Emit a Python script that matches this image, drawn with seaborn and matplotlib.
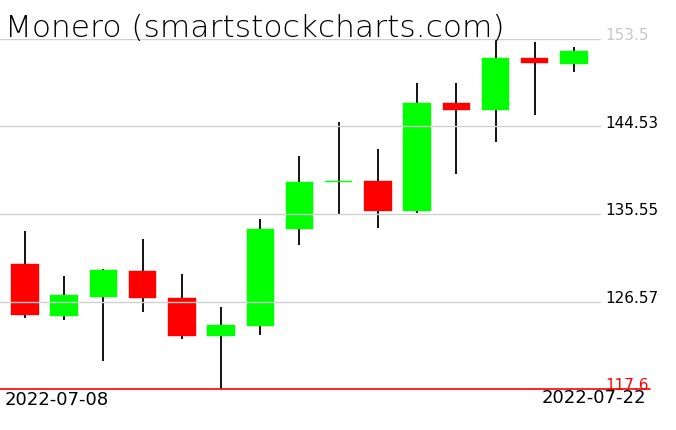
import matplotlib
matplotlib.use("Agg")
import matplotlib.pyplot as plt
import seaborn as sns
import pandas as pd

dates = ["2022-07-08", "2022-07-09", "2022-07-10", "2022-07-11", "2022-07-12",
         "2022-07-13", "2022-07-14", "2022-07-15", "2022-07-16", "2022-07-17",
         "2022-07-18", "2022-07-19", "2022-07-20", "2022-07-21", "2022-07-22"]
opens  = [130.43, 125.09, 127.04, 129.71, 126.94, 123.07, 124.10, 134.02, 138.85,
          138.94, 135.87, 146.95, 146.26, 151.57, 150.98]
closes = [125.22, 127.25, 129.81, 126.94, 123.07, 124.17, 134.02, 138.84, 138.95,
          135.87, 146.98, 146.26, 151.57, 151.05, 152.28]
highs  = [133.81, 129.20, 129.90, 132.99, 129.37, 126.01, 135.04, 141.51, 144.97,
          142.23, 149.00, 149.00, 153.40, 153.21, 152.70]
lows   = [124.92, 124.71, 120.47, 125.50, 122.76, 117.60, 123.17, 132.38, 135.56,
          134.12, 135.63, 139.69, 142.98, 145.72, 150.16]
tick_values = [153.5, 144.53, 135.55, 126.57, 117.6]
tick_labels = ["153.5", "144.53", "135.55", "126.57", "117.6"]
tick_colors = ["#c8c8c8", "black", "black", "black", "red"]
title = "Monero (smartstockcharts.com)"

df = pd.DataFrame({"date": dates, "open": opens, "close": closes,
                   "high": highs, "low": lows})
df["x"] = range(len(df))
df["up"] = df["close"] >= df["open"]

sns.set_theme(style="white")
plt.rcParams["font.family"] = ["DejaVu Sans"]
plt.rcParams["text.color"] = "black"

W, H = 676, 431
fig = plt.figure(figsize=(W / 100, H / 100), dpi=100)
ax = fig.add_axes([0, (H - 390) / H, 601 / W, (390 - 40) / H])
ax.set_xlim(-0.6376, 14.69)
ax.set_ylim(117.6, 153.5)
for s in ax.spines.values():
    s.set_visible(False)
ax.set_xticks([])
ax.set_yticks([])
ax.patch.set_alpha(0)

# wicks
ax.vlines(df["x"], df["low"], df["high"], color="black", linewidth=1.3, zorder=1)
# bodies
body_bottom = df[["open", "close"]].min(axis=1)
body_h = (df["close"] - df["open"]).abs().clip(lower=0.12)
colors = ["#00ff00" if u else "#ff0000" for u in df["up"]]
ax.bar(df["x"], body_h, bottom=body_bottom, width=0.7, color=colors,
       edgecolor=colors, linewidth=0.3, zorder=2)

# gridlines
for v in tick_values[:-1]:
    ax.axhline(v, color="#d0d0d0", linewidth=1.0, zorder=3)
ax.axhline(117.6, xmin=0, xmax=650 / 601, color="red", linewidth=1.2,
           zorder=3, clip_on=False)

# right labels
trans = ax.get_yaxis_transform()
for v, lab, c in zip(tick_values, tick_labels, tick_colors):
    ax.text(605 / 601, v + 0.42, lab, transform=trans, color=c, fontsize=11,
            va="center", ha="left", clip_on=False)

# title and date labels
fig.text(5 / W, (H - 37) / H, title, fontsize=22.5, fontweight="light",
         color="black", va="baseline", ha="left")
fig.text(5 / W, (H - 400) / H, dates[0], fontsize=13, color="black",
         va="center", ha="left")
fig.text(646 / W, (H - 398) / H, dates[-1], fontsize=13, color="black",
         va="center", ha="right")

fig.savefig("out.png", dpi=100)
